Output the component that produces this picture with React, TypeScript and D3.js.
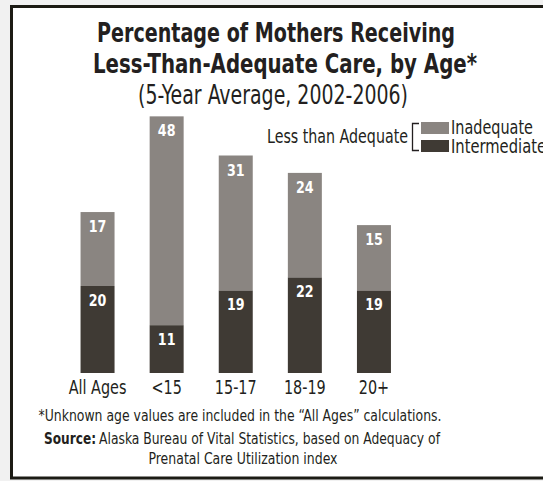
import React, { useEffect, useRef } from "react";
import * as d3 from "d3";

const categories = ["All Ages", "<15", "15-17", "18-19", "20+"];
const intermediate = [20, 11, 19, 22, 19];
const inadequate = [17, 48, 31, 24, 15];
const seriesNames = ["Inadequate", "Intermediate"];

const FONT = "'Liberation Sans Narrow', 'DejaVu Sans Condensed', 'Arial Narrow', sans-serif";
const INK = "#231f20";
const COLOR_INADEQUATE = "#8a8581";
const COLOR_INTERMEDIATE = "#3f3a34";

// squeeze text horizontally (the original uses a condensed face we don't have)
const fitWidth = (sel: any, w: number) =>
  sel.attr("textLength", w).attr("lengthAdjust", "spacingAndGlyphs");
const condense = (sel: any, k: number) =>
  sel.each(function (this: SVGTextElement) {
    const w = this.getComputedTextLength();
    d3.select(this).attr("textLength", w * k).attr("lengthAdjust", "spacingAndGlyphs");
  });

const App = () => {
  const ref = useRef<SVGSVGElement>(null);

  useEffect(() => {
    const svg = d3.select(ref.current);
    svg.selectAll("*").remove();

    const width = 543;
    const height = 481;

    // page background + frame
    svg.append("rect").attr("width", width).attr("height", height).attr("fill", "#f1f1f1");
    svg
      .append("rect")
      .attr("x", 11.5)
      .attr("y", 6.5)
      .attr("width", 560)
      .attr("height", 471.5)
      .attr("fill", "#fff")
      .attr("stroke", "#1c1b14")
      .attr("stroke-width", 3);

    // titles
    const title = svg.append("g").attr("font-family", FONT).attr("fill", INK).attr("text-anchor", "middle");
    fitWidth(
      title
        .append("text")
        .attr("x", 276)
        .attr("y", 42)
        .attr("font-size", 26)
        .attr("font-weight", "bold")
        .text("Percentage of Mothers Receiving"),
      358
    );
    fitWidth(
      title
        .append("text")
        .attr("x", 285)
        .attr("y", 73)
        .attr("font-size", 26)
        .attr("font-weight", "bold")
        .text("Less-Than-Adequate Care, by Age*"),
      384
    );
    fitWidth(
      title
        .append("text")
        .attr("x", 273)
        .attr("y", 104)
        .attr("font-size", 26)
        .text("(5-Year Average, 2002-2006)"),
      270
    );

    // scales
    const x = d3
      .scaleBand()
      .domain(categories)
      .range([63, 408.5])
      .paddingInner(0.508)
      .paddingOuter(0.254);
    const y = d3.scaleLinear().domain([0, 60]).range([373, 112]);

    const rows = categories.map((c, i) => ({
      cat: c,
      intermediate: intermediate[i],
      inadequate: inadequate[i],
    }));
    const stack = d3.stack().keys(["intermediate", "inadequate"])(rows as any);
    const colors: Record<string, string> = {
      intermediate: COLOR_INTERMEDIATE,
      inadequate: COLOR_INADEQUATE,
    };

    const bars = svg.append("g");
    stack.forEach((layer: any) => {
      const g = bars.append("g").attr("fill", colors[layer.key]);
      g.selectAll("rect")
        .data(layer)
        .enter()
        .append("rect")
        .attr("x", (d: any) => x(d.data.cat)!)
        .attr("width", x.bandwidth())
        .attr("y", (d: any) => y(d[1]))
        .attr("height", (d: any) => y(d[0]) - y(d[1]));

      // value labels near top of each segment
      const labels = bars
        .append("g")
        .selectAll("text")
        .data(layer)
        .enter()
        .append("text")
        .attr("x", (d: any) => x(d.data.cat)! + x.bandwidth() / 2)
        .attr("y", (d: any) => y(d[1]) + 20)
        .attr("text-anchor", "middle")
        .attr("font-family", FONT)
        .attr("font-weight", "bold")
        .attr("font-size", 16)
        .attr("fill", "#fff")
        .text((d: any) => d[1] - d[0]);
      condense(labels, 0.88);
    });

    // category axis (labels only)
    const axis = svg
      .append("g")
      .attr("transform", "translate(0,377)")
      .call(d3.axisBottom(x).tickSize(0).tickPadding(0));
    axis.select(".domain").remove();
    const tickText = axis
      .selectAll("text")
      .attr("font-family", FONT)
      .attr("font-size", 20)
      .attr("fill", INK)
      .attr("dy", "0.85em");
    condense(tickText, 0.8);

    // legend
    const legend = svg.append("g").attr("font-family", FONT).attr("fill", INK);
    fitWidth(
      legend
        .append("text")
        .attr("x", 408)
        .attr("y", 143)
        .attr("text-anchor", "end")
        .attr("font-size", 20)
        .text("Less than Adequate"),
      141
    );
    legend
      .append("path")
      .attr("d", "M419,123.5 H412.5 V150.5 H419")
      .attr("fill", "none")
      .attr("stroke", INK)
      .attr("stroke-width", 1.3);
    const legendColors = [COLOR_INADEQUATE, COLOR_INTERMEDIATE];
    const legendWidths = [82, 95];
    seriesNames.forEach((name, i) => {
      legend
        .append("rect")
        .attr("x", 421)
        .attr("y", 122 + i * 18)
        .attr("width", 28)
        .attr("height", 12)
        .attr("fill", legendColors[i]);
      fitWidth(
        legend
          .append("text")
          .attr("x", 451)
          .attr("y", 134 + i * 18.5)
          .attr("font-size", 20)
          .text(name),
        legendWidths[i]
      );
    });

    // footnotes
    const foot = svg.append("g").attr("font-family", FONT).attr("fill", INK);
    fitWidth(
      foot
        .append("text")
        .attr("x", 240)
        .attr("y", 421)
        .attr("text-anchor", "middle")
        .attr("font-size", 16.5)
        .text("*Unknown age values are included in the \u201CAll Ages\u201D calculations."),
      403
    );
    fitWidth(
      foot
        .append("text")
        .attr("x", 44)
        .attr("y", 444)
        .attr("font-size", 16.5)
        .attr("font-weight", "bold")
        .text("Source:"),
      52
    );
    fitWidth(
      foot
        .append("text")
        .attr("x", 99)
        .attr("y", 444)
        .attr("font-size", 16.5)
        .text("Alaska Bureau of Vital Statistics, based on Adequacy of"),
      341
    );
    fitWidth(
      foot
        .append("text")
        .attr("x", 243)
        .attr("y", 464)
        .attr("text-anchor", "middle")
        .attr("font-size", 16.5)
        .text("Prenatal Care Utilization index"),
      189
    );
  }, []);

  return (
    <svg
      ref={ref}
      width={543}
      height={481}
      style={{ position: "absolute", left: 0, top: 0, display: "block" }}
    />
  );
};

export default App;
